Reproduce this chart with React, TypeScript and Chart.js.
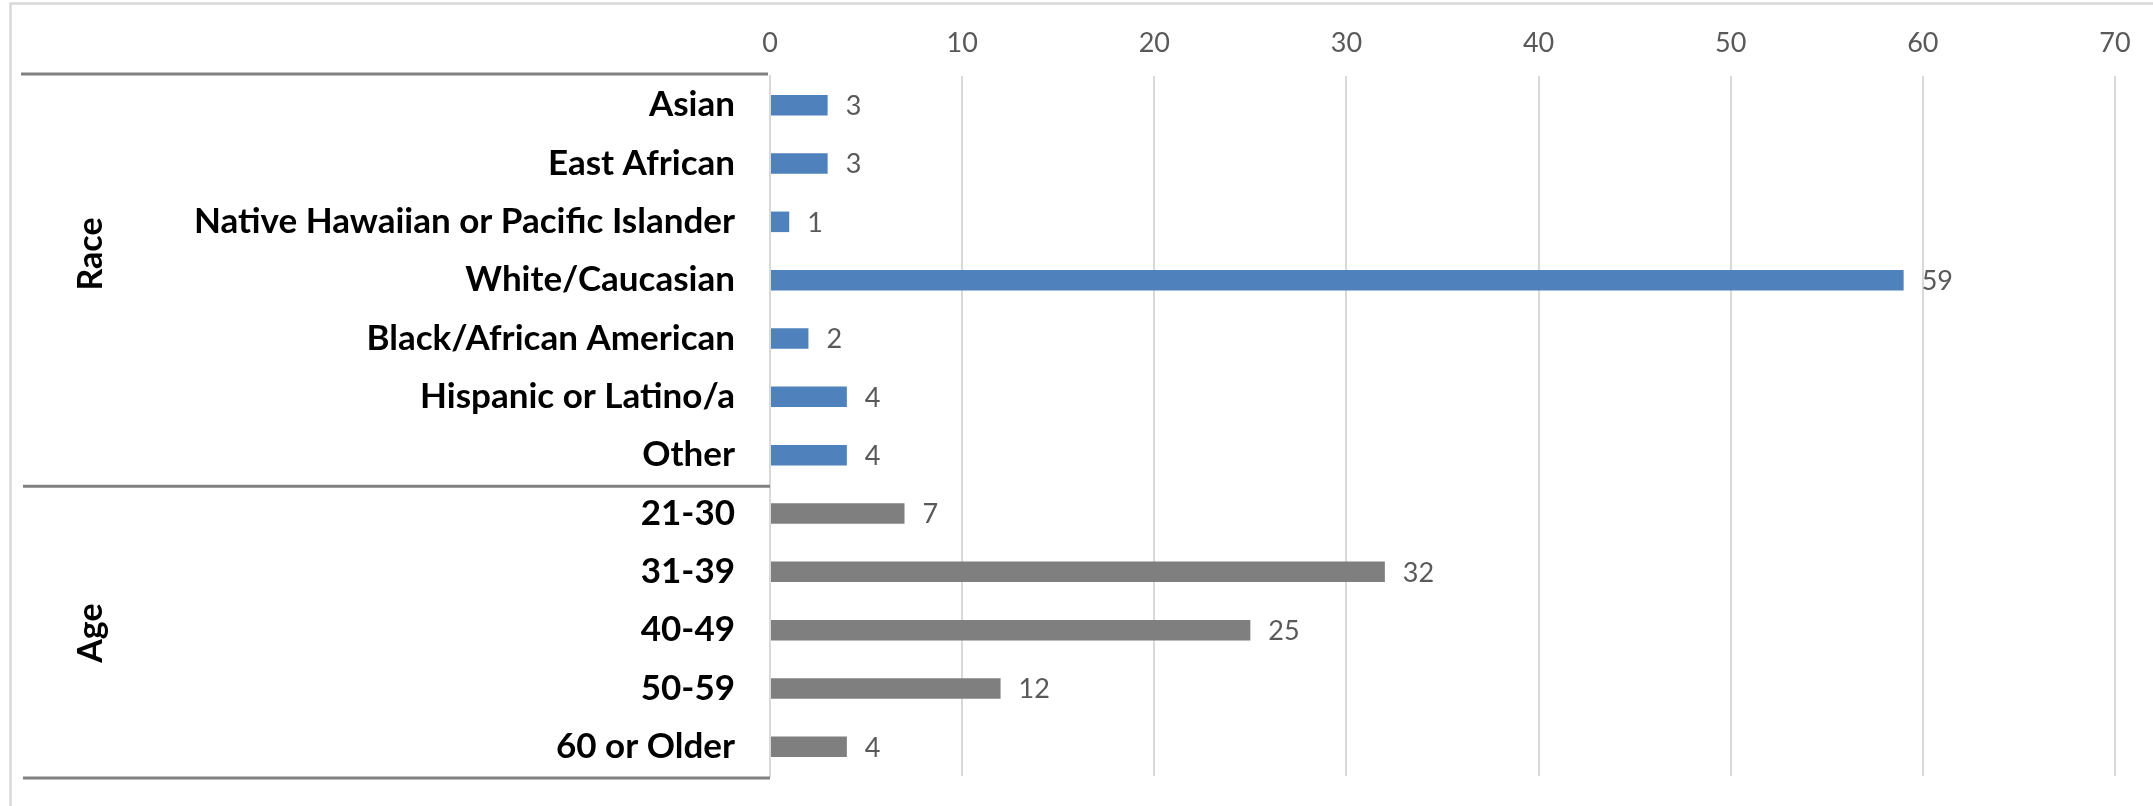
import React, { useEffect, useRef } from "react";
import { Chart, registerables } from "chart.js";

Chart.register(...registerables);

// ---- data ----
const raceCategories = [
  "Asian",
  "East African",
  "Native Hawaiian or Pacific Islander",
  "White/Caucasian",
  "Black/African American",
  "Hispanic or Latino/a",
  "Other",
];
const raceValues = [3, 3, 1, 59, 2, 4, 4];

const ageCategories = ["21-30", "31-39", "40-49", "50-59", "60 or Older"];
const ageValues = [7, 32, 25, 12, 4];

const groupNames = ["Race", "Age"];
const xTicks = [0, 10, 20, 30, 40, 50, 60, 70];

const RACE_COLOR = "#4f81bd";
const AGE_COLOR = "#7f7f7f";
const FONT = "Lato, 'Open Sans', sans-serif";

export default function App() {
  const canvasRef = useRef<HTMLCanvasElement | null>(null);

  useEffect(() => {
    const canvas = canvasRef.current;
    if (!canvas) return;

    const labels = [...raceCategories, ...ageCategories];
    const values = [...raceValues, ...ageValues];
    const colors = [
      ...raceCategories.map(() => RACE_COLOR),
      ...ageCategories.map(() => AGE_COLOR),
    ];
    const nR = raceCategories.length;
    const nA = ageCategories.length;
    // labelAt: category index (fractional) where the rotated group name sits
    const groups = [
      { name: groupNames[0], start: 0, end: nR - 1, labelAt: (nR - 1) / 2 - 0.5 },
      { name: groupNames[1], start: nR, end: nR + nA - 1, labelAt: nR + (nA - 1) / 2 },
    ];

    const overlay = {
      id: "overlay",
      afterDraw(chart: any) {
        const ctx = chart.ctx as CanvasRenderingContext2D;
        const yScale = chart.scales.y;
        const area = chart.chartArea;
        const p0 = yScale.getPixelForValue(0);
        const step = yScale.getPixelForValue(1) - p0;
        const pix = (v: number) => p0 + step * v;

        ctx.save();
        // outer frame
        ctx.strokeStyle = "#d9d9d9";
        ctx.lineWidth = 2.5;
        ctx.beginPath();
        ctx.moveTo(10.5, chart.height);
        ctx.lineTo(10.5, 3.5);
        ctx.lineTo(chart.width, 3.5);
        ctx.stroke();

        // group separators
        ctx.strokeStyle = "#808080";
        ctx.lineWidth = 3;
        const top = pix(-0.5) - 2;
        ctx.beginPath();
        ctx.moveTo(21, top);
        ctx.lineTo(area.left - 2, top);
        ctx.stroke();
        groups.forEach((g) => {
          const yb = pix(g.end + 0.5) + 2;
          ctx.beginPath();
          ctx.moveTo(23, yb);
          ctx.lineTo(area.left, yb);
          ctx.stroke();
        });

        // group labels (rotated)
        ctx.fillStyle = "#000";
        ctx.font = `bold 34px ${FONT}`;
        ctx.textAlign = "center";
        ctx.textBaseline = "middle";
        groups.forEach((g) => {
          const y = pix(g.labelAt);
          ctx.save();
          ctx.translate(91, y + 3);
          ctx.rotate(-Math.PI / 2);
          ctx.fillText(g.name, 0, 0);
          ctx.restore();
        });

        // data labels
        ctx.fillStyle = "#595959";
        ctx.font = `27px ${FONT}`;
        ctx.textAlign = "left";
        ctx.textBaseline = "middle";
        const meta = chart.getDatasetMeta(0);
        meta.data.forEach((bar: any, i: number) => {
          ctx.fillText(String(values[i]), bar.x + 18, bar.y + 1);
        });
        ctx.restore();
      },
    };

    const chart = new Chart(canvas, {
      type: "bar",
      data: {
        labels,
        datasets: [
          {
            data: values,
            backgroundColor: colors,
            borderWidth: 0,
            barPercentage: 1,
            categoryPercentage: 0.352,
          },
        ],
      },
      options: {
        indexAxis: "y",
        animation: false,
        responsive: false,
        devicePixelRatio: 1,
        layout: { padding: { left: 0, right: 38, top: 0, bottom: 30 } },
        plugins: {
          legend: { display: false },
          tooltip: { enabled: false },
        },
        scales: {
          x: {
            position: "top",
            min: xTicks[0],
            max: xTicks[xTicks.length - 1],
            afterBuildTicks: (scale: any) => {
              scale.ticks = xTicks.map((v) => ({ value: v }));
            },
            afterFit: (scale: any) => {
              scale.height = 76;
            },
            ticks: {
              color: "#595959",
              font: { family: FONT, size: 27 },
              padding: 17,
            },
            grid: {
              color: "#d9d9d9",
              lineWidth: 2,
              drawTicks: false,
            },
            border: { display: false },
          },
          y: {
            afterFit: (scale: any) => {
              scale.width = 770;
            },
            ticks: {
              color: "#000",
              font: { family: FONT, size: 35, weight: "bold" },
              padding: 0,
            },
            grid: { display: false, drawTicks: true, tickLength: 35 },
            border: { display: true, color: "#d9d9d9", width: 2 },
          },
        },
      },
      plugins: [overlay],
    } as any);

    return () => chart.destroy();
  }, []);

  return (
    <canvas
      ref={canvasRef}
      width={2153}
      height={806}
      style={{ position: "fixed", left: 0, top: 0, display: "block", background: "#fff" }}
    />
  );
}
